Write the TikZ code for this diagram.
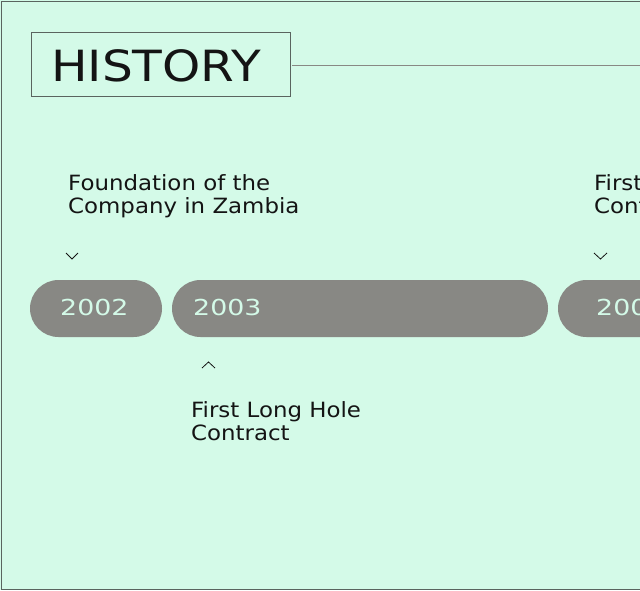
\documentclass[tikz,border=0pt]{standalone}
\usepackage{fontspec}
\setmainfont{DejaVu Sans}
\newfontfamily\widefont[FakeStretch=1.13]{DejaVu Sans}
\newfontfamily\eventfont[FakeStretch=1.09]{DejaVu Sans}
\newfontfamily\yearfont[FakeStretch=1.22]{DejaVu Sans}
\definecolor{mint}{RGB}{212,250,232}
\definecolor{pillgray}{RGB}{136,136,132}
\definecolor{framegray}{RGB}{90,100,95}
\definecolor{ink}{RGB}{20,20,20}
\tikzset{
  pill/.style={fill=pillgray, draw=none, rounded corners=28.5pt, minimum height=57pt, inner sep=0pt},
  year/.style={text=mint, font=\yearfont\fontsize{22}{22}\selectfont, inner sep=0pt, anchor=base west},
  event/.style={text=ink, font=\eventfont\fontsize{21}{23}\selectfont, inner sep=0pt, anchor=north west, align=left},
  chevron/.style={draw=ink, line width=0.8pt}
}
\begin{document}
\begin{tikzpicture}[x=1pt, y=-1pt]
    \useasboundingbox (0,0) rectangle (640,590);
    \clip (0,0) rectangle (640,590);

    % Sfondo e cornice
    \fill[mint] (0,0) rectangle (640,590);
    \draw[framegray, line width=1pt] (641,1) -- (1,1) -- (1,589) -- (641,589);

    % Titolo
    \node[draw=framegray, line width=0.8pt, minimum width=259pt, minimum height=64pt, inner sep=0pt] (title) at (160.5,64) {};
    \node[text=ink, font=\widefont\fontsize{43}{43}\selectfont, inner sep=0pt, anchor=base west] (titletext) at (51,81) {HISTORY};
    \coordinate (lineend) at (641,65);
    \draw[pillgray, line width=1pt] (title.east |- lineend) ++(2,0) -- (lineend);

    % Pillole degli anni
    \node[pill, minimum width=132pt] (p2002) at (96,308.5) {};
    \node[pill, minimum width=376pt] (p2003) at (360,308.5) {};
    \node[pill, minimum width=160pt] (p2004) at (638,308.5) {};
    \node[year] (y2002) at (60,315) {2002};
    \node[year] (y2003) at (193,315) {2003};
    \node[year] (y2004) at (596,315) {2004};

    % Eventi
    \node[event] (e2002) at (68,174) {Foundation of the\\Company in Zambia};
    \node[event] (e2003) at (191,401) {First Long Hole\\Contract};
    \node[event] (e2004) at (594,174) {First\\Contract};

    % Frecce
    \draw[chevron] (66,253) -- (72,259) -- (78,253);
    \draw[chevron] (594,253) -- (600.5,259) -- (607,253);
    \draw[chevron] (202,368) -- (208.5,362) -- (215,368);

\end{tikzpicture}
\end{document}
